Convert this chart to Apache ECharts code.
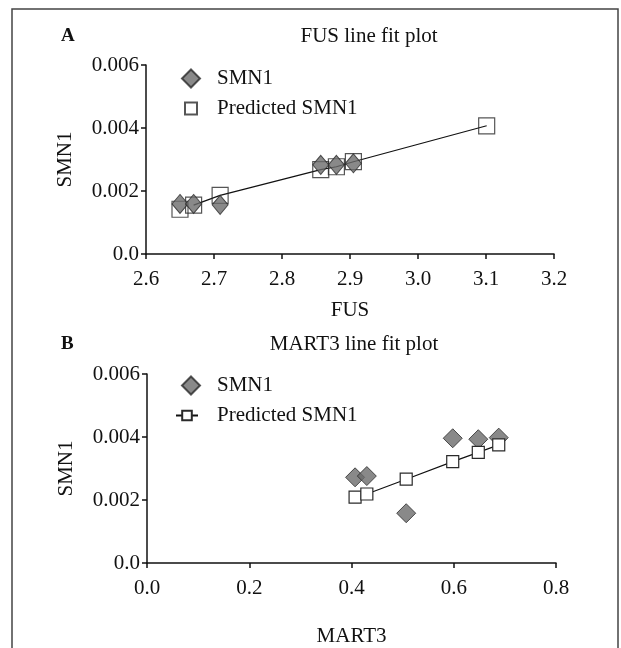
<!DOCTYPE html>
<html>
<head>
<meta charset="utf-8">
<script src="https://cdn.jsdelivr.net/npm/echarts@6/dist/echarts.min.js"></script>
<style>
  html, body { margin: 0; padding: 0; background: #fff; }
  #chart { width: 621px; height: 648px; }
</style>
</head>
<body>
<div id="chart"></div>
<script>
// panel A: FUS line fit plot
const fusX = [2.65, 2.67, 2.709, 2.857, 2.880, 2.905, 3.101];
const fusSmn1 = [0.00159, 0.00159, 0.00156, 0.00283, 0.00283, 0.00288, null];
const fusPred = [0.00142, 0.00155, 0.00186, 0.00268, 0.00277, 0.00293, 0.00407];
const fusTicks = [2.6, 2.7, 2.8, 2.9, 3.0, 3.1, 3.2];

// panel B: MART3 line fit plot
const martX = [0.407, 0.430, 0.507, 0.598, 0.648, 0.688];
const martSmn1 = [0.00272, 0.00276, 0.00158, 0.00396, 0.00393, 0.00398];
const martPred = [0.00209, 0.00219, 0.00266, 0.00322, 0.00351, 0.00375];
const martTicks = [0.0, 0.2, 0.4, 0.6, 0.8];

const smnTicks = [0, 0.002, 0.004, 0.006];

const font = 'Liberation Serif';
const ink = '#111';

function pairs(xs, ys) {
    const out = [];
    xs.forEach((x, i) => {
        if (ys[i] != null) out.push([x, ys[i]]);
    });
    return out;
}

function yAxisOpt(gi) {
    return {
        gridIndex: gi,
        type: 'value',
        min: smnTicks[0],
        max: smnTicks[smnTicks.length - 1],
        interval: 0.002,
        name: 'SMN1',
        nameLocation: 'middle',
        nameGap: 70,
        nameTextStyle: { fontFamily: font, fontSize: 21, color: ink },
        axisLine: { show: true, lineStyle: { color: ink, width: 1.5 } },
        axisTick: { show: true, length: 5, lineStyle: { color: ink, width: 1.5 } },
        axisLabel: {
            fontFamily: font, fontSize: 21, color: ink, margin: 7,
            formatter: v => v === 0 ? '0.0' : v.toFixed(3)
        },
        splitLine: { show: false }
    };
}

function xAxisOpt(gi, ticks, name, gap) {
    return {
        gridIndex: gi,
        type: 'value',
        min: ticks[0],
        max: ticks[ticks.length - 1],
        interval: ticks[1] - ticks[0],
        name: name,
        nameLocation: 'middle',
        nameGap: gap,
        nameTextStyle: { fontFamily: font, fontSize: 21, color: ink },
        axisLine: { show: true, onZero: false, lineStyle: { color: ink, width: 1.5 } },
        axisTick: { show: true, length: 5, lineStyle: { color: ink, width: 1.5 } },
        axisLabel: {
            fontFamily: font, fontSize: 21, color: ink, margin: 15,
            formatter: v => v.toFixed(1)
        },
        splitLine: { show: false }
    };
}

function legendOpt(name, icon, left, top, size, pad) {
    const item = { name: name };
    if (icon) item.icon = icon;
    return {
        data: [item],
        left: left, top: top, padding: 0,
        itemWidth: size[0], itemHeight: size[1],
        formatter: n => n.trim(),
        textStyle: { fontFamily: font, fontSize: 21, color: ink, padding: [0, 0, 0, pad] }
    };
}

const diamondStyle = { color: '#6b6b6b', borderColor: '#2a2a2a', borderWidth: 1 };

const chart = echarts.init(document.getElementById('chart'), null, { renderer: 'canvas' });
const option = {
    backgroundColor: '#fff',
    animation: false,
    textStyle: { fontFamily: font },
    graphic: [{
        type: 'rect',
        shape: { x: 12, y: 9, width: 606, height: 660 },
        style: { fill: 'none', stroke: '#444', lineWidth: 1.5 },
        silent: true
    }],
    title: [
        { text: 'A', left: 56, top: 22, textStyle: { fontFamily: font, fontSize: 19, fontWeight: 'bold', color: ink } },
        { text: 'FUS line fit plot', left: 364, top: 21, textAlign: 'center', textStyle: { fontFamily: font, fontSize: 21, fontWeight: 'normal', color: ink } },
        { text: 'B', left: 56, top: 330, textStyle: { fontFamily: font, fontSize: 19, fontWeight: 'bold', color: ink } },
        { text: 'MART3 line fit plot', left: 349, top: 329, textAlign: 'center', textStyle: { fontFamily: font, fontSize: 21, fontWeight: 'normal', color: ink } }
    ],
    legend: [
        legendOpt('SMN1', 'diamond', 181, 68, [18, 18], 12),
        legendOpt('Predicted SMN1', 'rect', 184, 98, [12, 12], 15),
        legendOpt('SMN1 ', 'diamond', 181, 375, [18, 18], 12),
        legendOpt('Predicted SMN1 ', null, 175, 405, [22, 12], 14)
    ],
    grid: [
        { left: 146, right: 67, top: 65, bottom: 394 },
        { left: 147, right: 65, top: 374, bottom: 85 }
    ],
    xAxis: [
        xAxisOpt(0, fusTicks, 'FUS', 46),
        xAxisOpt(1, martTicks, 'MART3', 63)
    ],
    yAxis: [yAxisOpt(0), yAxisOpt(1)],
    series: [
        {
            name: 'fit A',
            type: 'line',
            xAxisIndex: 0, yAxisIndex: 0,
            data: pairs(fusX, fusPred).slice(1),
            showSymbol: false,
            lineStyle: { color: ink, width: 1.2 },
            z: 1
        },
        {
            name: 'Predicted SMN1',
            type: 'scatter',
            xAxisIndex: 0, yAxisIndex: 0,
            data: pairs(fusX, fusPred),
            symbol: 'rect',
            symbolSize: 16,
            itemStyle: { color: 'rgba(255,255,255,0)', borderColor: '#2a2a2a', borderWidth: 1.2 },
            z: 2
        },
        {
            name: 'SMN1',
            type: 'scatter',
            xAxisIndex: 0, yAxisIndex: 0,
            data: pairs(fusX, fusSmn1),
            symbol: 'diamond',
            symbolSize: [16, 19],
            itemStyle: diamondStyle,
            z: 3
        },
        {
            name: 'SMN1 ',
            type: 'scatter',
            xAxisIndex: 1, yAxisIndex: 1,
            data: pairs(martX, martSmn1),
            symbol: 'diamond',
            symbolSize: 19,
            itemStyle: diamondStyle,
            z: 2
        },
        {
            name: 'Predicted SMN1 ',
            type: 'line',
            xAxisIndex: 1, yAxisIndex: 1,
            data: pairs(martX, martPred),
            symbol: 'rect',
            symbolSize: 12,
            showAllSymbol: true,
            lineStyle: { color: ink, width: 1.2 },
            itemStyle: { color: '#fff', borderColor: '#2a2a2a', borderWidth: 1.2 },
            z: 3
        }
    ]
};
chart.setOption(option);
</script>
</body>
</html>
